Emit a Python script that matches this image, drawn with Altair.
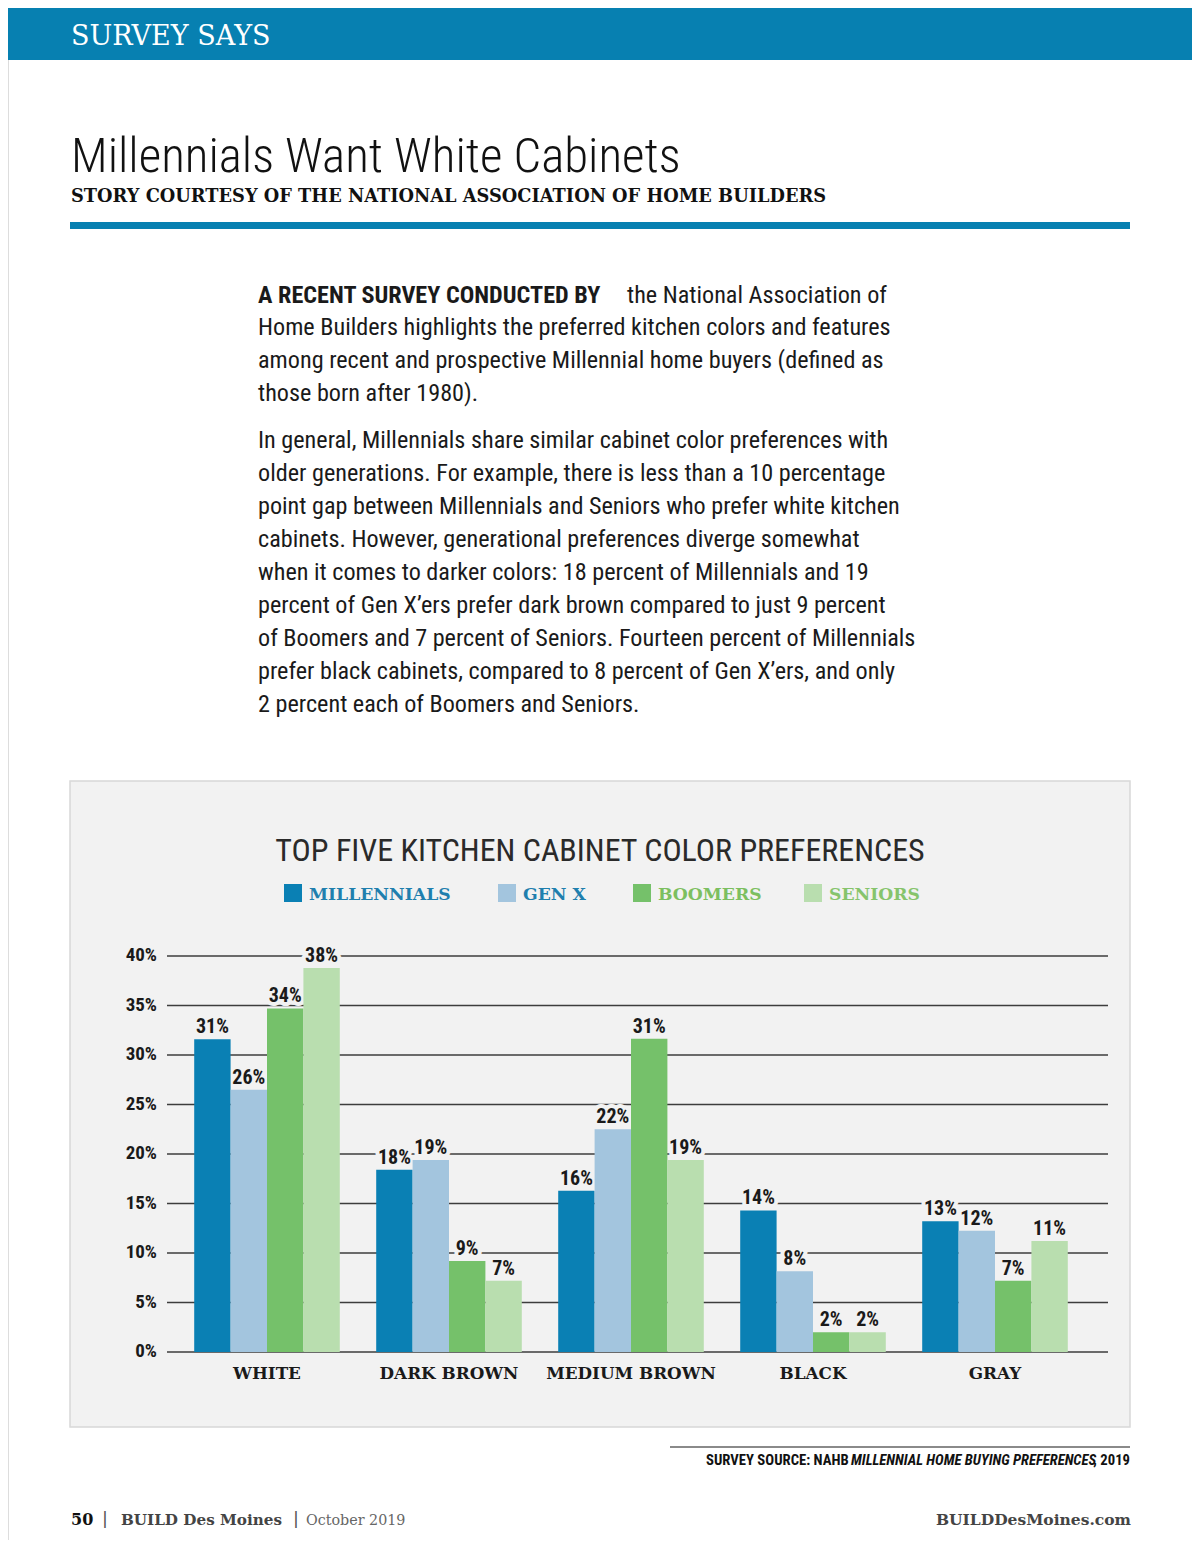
import altair as alt
import pandas as pd

# ---------------- data ----------------
categories = ["WHITE", "DARK BROWN", "MEDIUM BROWN", "BLACK", "GRAY"]
series = ["MILLENNIALS", "GEN X", "BOOMERS", "SENIORS"]
bar_colors = ["#0a80b4", "#a3c5de", "#75c16a", "#b9deaf"]
legend_text_colors = ["#1f7fae", "#1f7fae", "#7cbf60", "#86c46c"]

millennials = [31.6, 18.4, 16.3, 14.3, 13.2]
gen_x = [26.5, 19.4, 22.5, 8.15, 12.25]
boomers = [34.7, 9.2, 31.65, 2.0, 7.2]
seniors = [38.8, 7.2, 19.4, 2.0, 11.2]

millennials_lbl = ["31%", "18%", "16%", "14%", "13%"]
gen_x_lbl = ["26%", "19%", "22%", "8%", "12%"]
boomers_lbl = ["34%", "9%", "31%", "2%", "7%"]
seniors_lbl = ["38%", "7%", "19%", "2%", "11%"]

y_ticks = [0, 5, 10, 15, 20, 25, 30, 35, 40]
y_tick_labels = ["0%", "5%", "10%", "15%", "20%", "25%", "30%", "35%", "40%"]

header_text = "SURVEY SAYS"
page_title = "Millennials Want White Cabinets"
page_subtitle = "STORY COURTESY OF THE NATIONAL ASSOCIATION OF HOME BUILDERS"
lead_bold = "A RECENT SURVEY CONDUCTED BY"
lead_rest = "the National Association of"
para1_lines = [
    "Home Builders highlights the preferred kitchen colors and features",
    "among recent and prospective Millennial home buyers (defined as",
    "those born after 1980).",
]
para2_lines = [
    "In general, Millennials share similar cabinet color preferences with",
    "older generations. For example, there is less than a 10 percentage",
    "point gap between Millennials and Seniors who prefer white kitchen",
    "cabinets. However, generational preferences diverge somewhat",
    "when it comes to darker colors: 18 percent of Millennials and 19",
    "percent of Gen X\u2019ers prefer dark brown compared to just 9 percent",
    "of Boomers and 7 percent of Seniors. Fourteen percent of Millennials",
    "prefer black cabinets, compared to 8 percent of Gen X\u2019ers, and only",
    "2 percent each of Boomers and Seniors.",
]
chart_title = "TOP FIVE KITCHEN CABINET COLOR PREFERENCES"
source_a = "SURVEY SOURCE: NAHB"
source_b = "MILLENNIAL HOME BUYING PREFERENCES"
source_c = ", 2019"
footer_page = "50"
footer_mag = "BUILD Des Moines"
footer_date = "October 2019"
footer_site = "BUILDDesMoines.com"

# ---------------- tables ----------------
vals = [millennials, gen_x, boomers, seniors]
lbls = [millennials_lbl, gen_x_lbl, boomers_lbl, seniors_lbl]
rows = []
for s, v, l in zip(series, vals, lbls):
    for c, vv, ll in zip(categories, v, l):
        rows.append({"cat": c, "series": s, "value": vv, "label": ll})
bars_df = pd.DataFrame(rows)
ticks_df = pd.DataFrame({"t": y_ticks, "lab": y_tick_labels})
cats_df = pd.DataFrame({"cat": categories})

# ---------------- styling / layout ----------------
BLUE = "#0780b1"
BOX = "#f2f2f2"
NARROW = "'Liberation Sans Narrow', 'Roboto Condensed', 'DejaVu Sans Condensed', sans-serif"
SLAB = "'DejaVu Serif', serif"

xs = alt.Scale(domain=categories, range=[168, 1078], paddingInner=0.2, paddingOuter=0.1)
ys = alt.Scale(domain=[0, 40], range=[1344, 948], nice=False, zero=True)
xo = alt.Scale(type="band", domain=series, paddingInner=0, paddingOuter=0)
cs = alt.Scale(domain=series, range=bar_colors)

one = pd.DataFrame({"a": [0]})


def rect(x, x2, y, y2, fill, stroke=None, sw=1):
    kw = {"fill": fill}
    if stroke:
        kw.update(stroke=stroke, strokeWidth=sw)
    return alt.Chart(one).mark_rect(**kw).encode(
        x=alt.value(x), x2=alt.value(x2), y=alt.value(y), y2=alt.value(y2))


def text(rows_, **kw):
    df = pd.DataFrame(rows_, columns=["t", "px", "py"])
    return alt.Chart(df).mark_text(baseline="alphabetic", **kw).encode(
        x=alt.X("px:Q", scale=None, axis=None),
        y=alt.Y("py:Q", scale=None, axis=None),
        text="t:N")


layers = []
# header band
layers.append(rect(0, 1184, 0, 52, BLUE))
layers.append(text([(header_text, 63, 37)], font=SLAB, fontSize=27, color="white", align="left"))
# title block
layers.append(text([(page_title, 63, 164)], font=NARROW, fontSize=49, fontWeight=300,
                   color="#111", align="left"))
layers.append(text([(page_subtitle, 63, 194)], font=SLAB, fontSize=17.8, fontWeight="bold",
                   color="#111", align="left"))
layers.append(rect(62, 1122, 214, 221, BLUE))

# body text
LH = 33
BODY = 24.2
layers.append(text([(lead_bold, 250, 295)], font=NARROW, fontSize=BODY, fontWeight="bold",
                   color="#1a1a1a", align="left"))
layers.append(text([(lead_rest, 619, 295)], font=NARROW, fontSize=BODY, color="#1a1a1a", align="left"))
layers.append(text([(t, 250, 295 + LH * (i + 1) - 1) for i, t in enumerate(para1_lines)],
                   font=NARROW, fontSize=BODY, color="#1a1a1a", align="left"))
layers.append(text([(t, 250, 440 + LH * i) for i, t in enumerate(para2_lines)],
                   font=NARROW, fontSize=BODY, color="#1a1a1a", align="left"))

# chart box
layers.append(rect(62, 1122, 773, 1419, BOX, stroke="#d8d8d8", sw=1.5))
layers.append(text([(chart_title, 592, 853)], font=NARROW, fontSize=32, color="#2a2a2a", align="center"))

# legend
leg_x = [301, 515, 650, 821]
leg_df = pd.DataFrame({"series": series, "px": leg_x, "tc": legend_text_colors})
layers.append(alt.Chart(leg_df).mark_rect().encode(
    x=alt.X("sx:Q", scale=None, axis=None), x2="sx2:Q",
    y=alt.value(876), y2=alt.value(894),
    color=alt.Color("series:N", scale=cs, legend=None),
).transform_calculate(sx="datum.px - 25", sx2="datum.px - 7"))
layers.append(alt.Chart(leg_df).mark_text(font=SLAB, fontSize=17.2, fontWeight="bold",
                                         align="left", baseline="alphabetic").encode(
    x=alt.X("px:Q", scale=None, axis=None),
    y=alt.value(892),
    text="series:N",
    color=alt.Color("tc:N", scale=None, legend=None)))

# gridlines and y tick labels
layers.append(alt.Chart(ticks_df).mark_rule(color="#3d3d3d", strokeWidth=1.3).encode(
    y=alt.Y("t:Q", scale=ys, axis=None), x=alt.value(159), x2=alt.value(1100)))
layers.append(alt.Chart(ticks_df).mark_text(font=NARROW, fontSize=19, fontWeight="bold",
                                           align="right", baseline="middle", dy=-1,
                                           color="#1a1a1a").encode(
    y=alt.Y("t:Q", scale=ys, axis=None), x=alt.value(149), text="lab:N"))

# shared encodings for bars and their labels
enc_common = dict(
    x=alt.X("cat:N", scale=xs, axis=None, sort=categories),
    xOffset=alt.XOffset("series:N", scale=xo, sort=series),
    y=alt.Y("value:Q", scale=ys, axis=None),
)
# value label knockout (background-coloured halo)
layers.append(alt.Chart(bars_df).mark_text(font=NARROW, fontSize=20, fontWeight="bold",
                                          baseline="alphabetic", dy=-6,
                                          color=BOX, stroke=BOX,
                                          strokeWidth=8, strokeJoin="round").encode(
    text="label:N", **enc_common))
# bars
layers.append(alt.Chart(bars_df).mark_bar().encode(
    color=alt.Color("series:N", scale=cs, legend=None), **enc_common))
# value labels
layers.append(alt.Chart(bars_df).mark_text(font=NARROW, fontSize=20, fontWeight="bold",
                                          baseline="alphabetic", dy=-6,
                                          color="#1a1a1a").encode(
    text="label:N", **enc_common))
# category labels
layers.append(alt.Chart(cats_df).mark_text(font=SLAB, fontSize=16.8, fontWeight="bold",
                                          baseline="alphabetic", color="#1a1a1a").encode(
    x=alt.X("cat:N", scale=xs, axis=None, sort=categories), y=alt.value(1371), text="cat:N"))

# source
SRC = 14.7
layers.append(alt.Chart(one).mark_rule(color="#8a8a8a", strokeWidth=2).encode(
    x=alt.value(662), x2=alt.value(1122), y=alt.value(1439)))
layers.append(text([(source_a, 698, 1457)], font=NARROW, fontSize=SRC, fontWeight="bold",
                   color="#111", align="left"))
layers.append(text([(source_b, 843, 1457)], font=NARROW, fontSize=SRC, fontWeight="bold",
                   fontStyle="italic", color="#111", align="left"))
layers.append(text([(source_c, 1122, 1457)], font=NARROW, fontSize=SRC, fontWeight="bold",
                   color="#111", align="right"))

# footer
layers.append(text([(footer_page, 63, 1517)], font=SLAB, fontSize=16, fontWeight="bold",
                   color="#111", align="left"))
layers.append(text([("|", 97, 1518), ("|", 288, 1518)], font=NARROW, fontSize=20,
                   color="#555", align="center"))
layers.append(text([(footer_mag, 113, 1517)], font=SLAB, fontSize=15.2, fontWeight="bold",
                   color="#444", align="left"))
layers.append(text([(footer_date, 298, 1517)], font=SLAB, fontSize=14.3, color="#666", align="left"))
layers.append(text([(footer_site, 1123, 1517)], font=SLAB, fontSize=15.5, fontWeight="bold",
                   color="#444", align="right"))

chart = alt.layer(*layers).resolve_scale(
    x="independent", y="independent", color="independent", xOffset="independent"
).properties(
    width=1184, height=1532, autosize=alt.AutoSizeParams(type="none"), padding=0
).configure_view(stroke=None).configure(background="white")

chart.save("out.html", embed_options={"renderer": "svg", "actions": False})
